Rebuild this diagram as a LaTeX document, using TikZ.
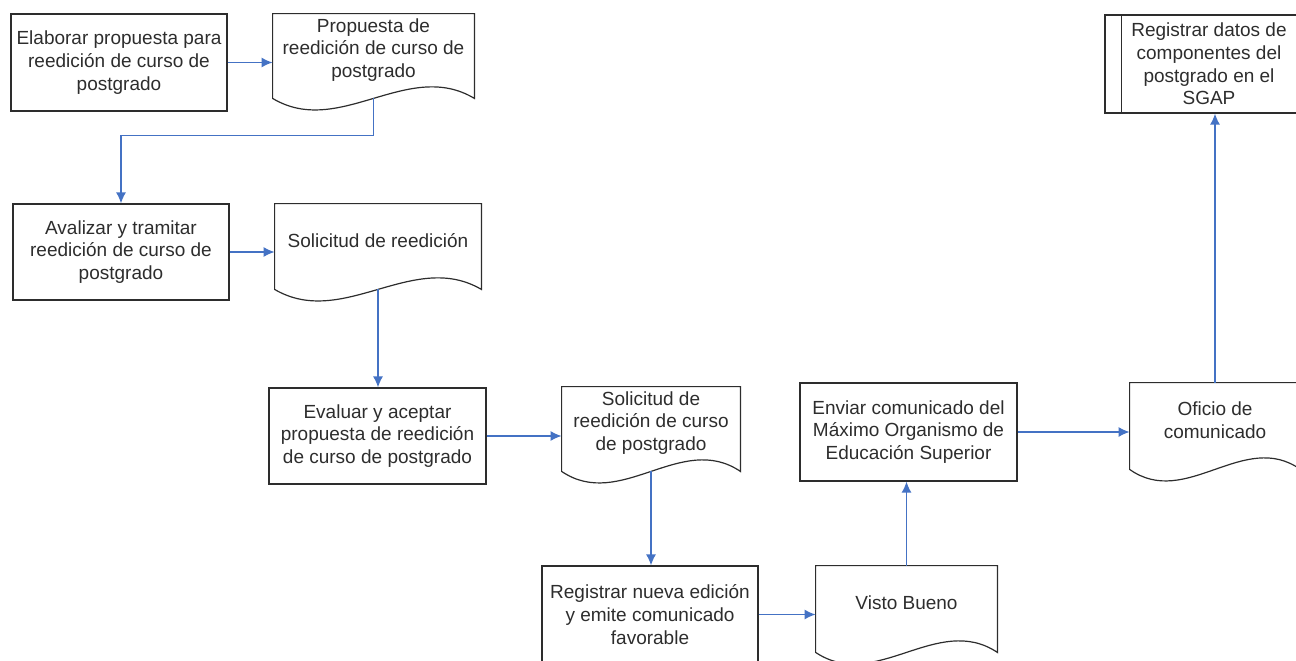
\documentclass[tikz,border=0pt]{standalone}
\usepackage{fontspec}
\setmainfont{Liberation Sans}
\usepackage{xcolor}
\usetikzlibrary{arrows.meta}
\usetikzlibrary{calc}
\definecolor{cblue}{RGB}{68,114,196}
\definecolor{cgray}{RGB}{45,45,45}

\begin{document}
\begin{tikzpicture}[x=0.5pt, y=-0.5pt,
  proc/.style={draw=cgray, line width=0.6pt, align=center, inner sep=2pt, text=cgray, font=\fontsize{9.5}{11.4}\selectfont},
  docu/.style={align=center, inner sep=2pt, text=cgray, font=\fontsize{9.5}{11.4}\selectfont},
  flow/.style={cblue, line width=0.7pt, -{Latex[length=5.5pt,width=5pt]}}]

\useasboundingbox (0,0) rectangle (1296,660);
\clip (0,0) rectangle (1296,660);

% procesos
\node[proc, minimum width=108pt, minimum height=48.5pt] (elab) at (119,62.5) {Elaborar propuesta para\\reedición de curso de\\postgrado};
\node[proc, minimum width=108pt, minimum height=48pt] (aval) at (121,252) {Avalizar y tramitar\\reedición de curso de\\postgrado};
\node[proc, minimum width=108.5pt, minimum height=48pt] (eval) at (377.5,436) {Evaluar y aceptar\\propuesta de reedición\\de curso de postgrado};
\node[proc, minimum width=108pt, minimum height=48.5pt] (regn) at (650,614.5) {Registrar nueva edición\\y emite comunicado\\favorable};
\node[proc, minimum width=108.5pt, minimum height=49pt] (envi) at (908.5,432) {Enviar comunicado del\\Máximo Organismo de\\Educación Superior};
\node[proc, minimum width=104pt, minimum height=49pt] (regd) at (1209,64) {Registrar datos de\\componentes del\\postgrado en el\\SGAP};
\draw[cgray, line width=0.6pt] ([xshift=8.5pt]regd.north west) -- ([xshift=8.5pt]regd.south west);
\draw[cgray, line width=0.6pt] ([xshift=-8.5pt]regd.north east) -- ([xshift=-8.5pt]regd.south east);

% documentos
\node[docu, minimum width=100.5pt, minimum height=36pt] (prop) at (373.5,50) {Propuesta de\\reedición de curso de\\postgrado};
\node[docu, minimum width=103pt, minimum height=36.5pt] (soli) at (378,240.5) {Solicitud de reedición};
\node[docu, minimum width=89pt, minimum height=36pt] (sol2) at (651,423) {Solicitud de\\reedición de curso\\de postgrado};
\node[docu, minimum width=90.5pt, minimum height=37pt] (vist) at (906.5,603) {Visto Bueno};
\node[docu, minimum width=85pt, minimum height=37pt] (ofic) at (1215,420) {Oficio de\\comunicado};

\foreach \d in {prop,soli,sol2,vist,ofic}{
\draw[cgray, line width=0.6pt] ([yshift=-6pt]\d.south west) -- (\d.north west) -- (\d.north east) -- ([yshift=-6pt]\d.south east)
  .. controls ($(\d.south east)!0.33!(\d.south west)+(0,14pt)$) and ($(\d.south west)!0.33!(\d.south east)+(0,-26pt)$) .. ([yshift=-6pt]\d.south west) -- cycle;
\coordinate (\d-b) at ([yshift=-6pt]\d.south);
}

% flujo
\draw[flow] (elab.east) -- (elab.east -| prop.west);
\draw[flow] (prop-b) -- ++(0,37) -| (aval.north);
\draw[flow] (aval.east) -- (aval.east -| soli.west);
\draw[flow] (soli-b) -- (soli-b |- eval.north);
\draw[flow] (eval.east) -- (eval.east -| sol2.west);
\draw[flow] (sol2-b) -- (sol2-b |- regn.north);
\draw[flow] (regn.east) -- (regn.east -| vist.west);
\draw[flow] (vist.north) -- (vist.north |- envi.south);
\draw[flow] (envi.east) -- (envi.east -| ofic.west);
\draw[flow] (ofic.north) -- (ofic.north |- regd.south);

\end{tikzpicture}
\end{document}
